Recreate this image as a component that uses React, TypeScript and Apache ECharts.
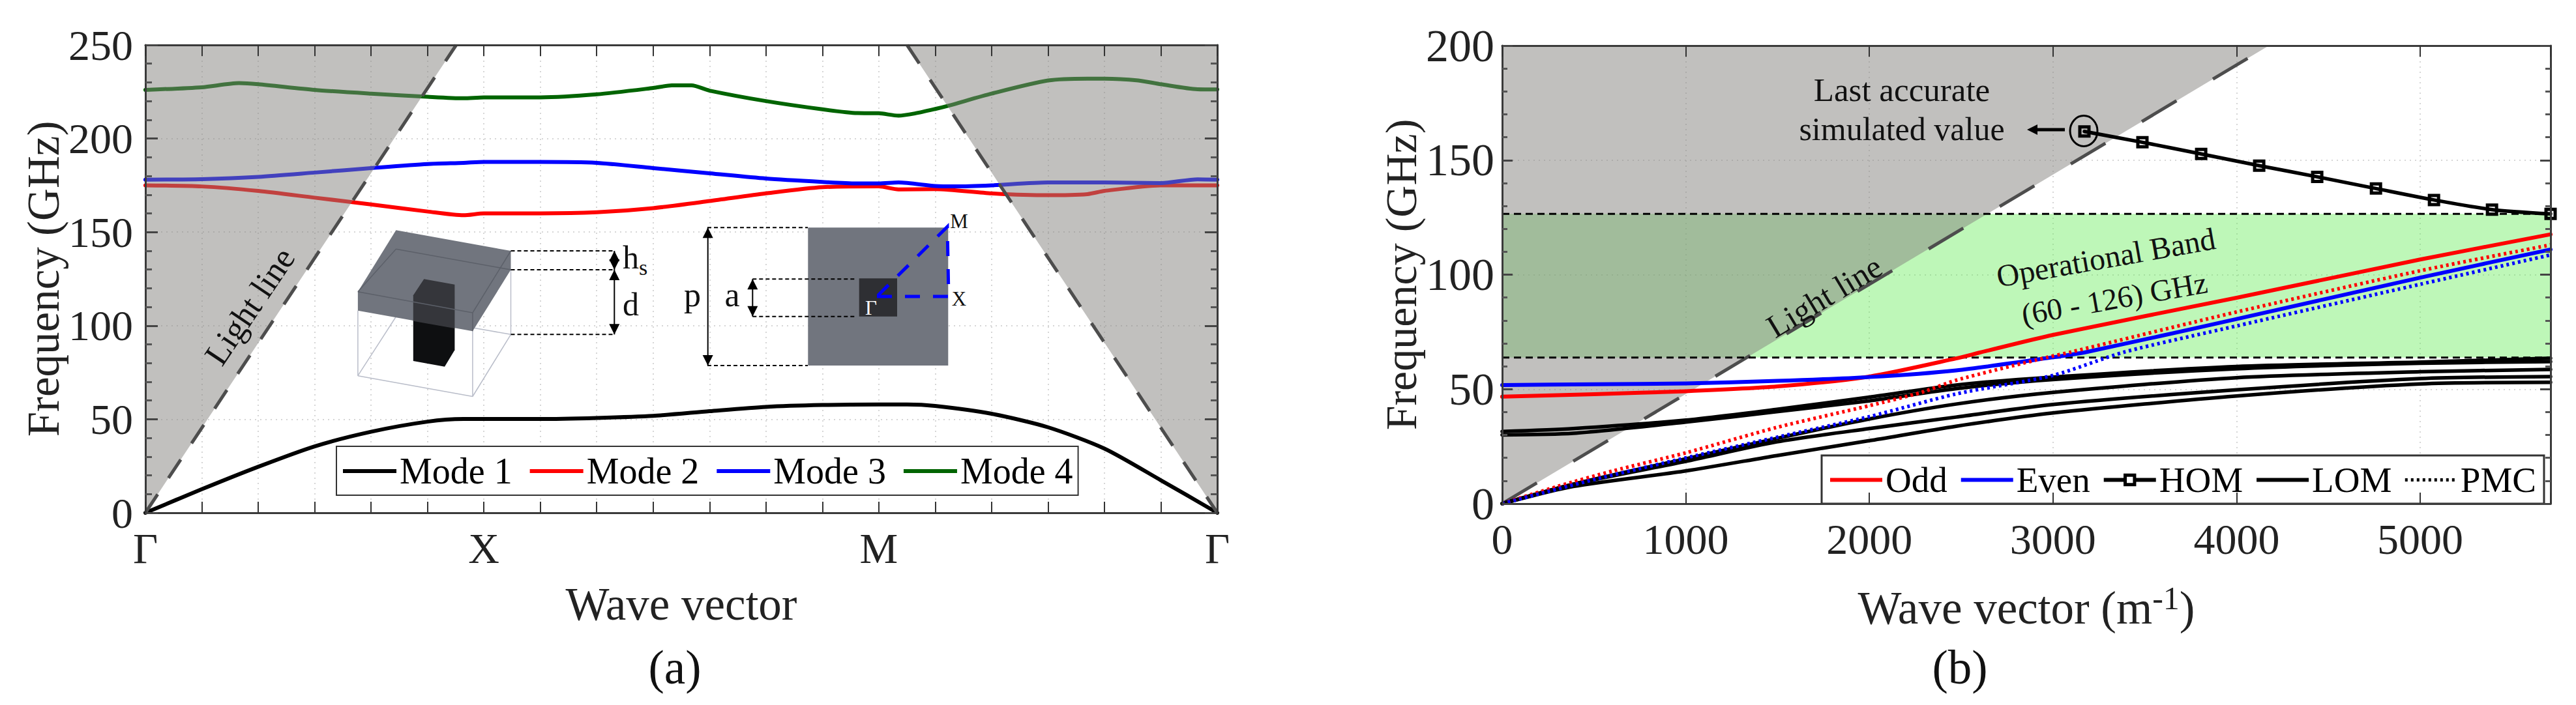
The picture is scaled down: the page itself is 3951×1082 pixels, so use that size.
import React, { useEffect, useRef } from "react";
import * as echarts from "echarts";

const FONT = "'Liberation Serif', 'Times New Roman', serif";

// ---- Panel (a) ----
const xTickLabelsA: Record<number, string> = { 0: "Γ", 6: "X", 13: "M", 19: "Γ" };
const mode1X = [0, 1, 2, 3, 4, 5, 5.64, 6, 7, 8, 9, 10, 11, 12, 13, 13.5, 14, 15, 16, 17, 18, 19];
const mode1Y = [0, 12.6, 24.6, 35.5, 43.3, 48.7, 50.1, 50.1, 50.1, 50.7, 51.8, 54.3, 56.6, 57.6, 57.9, 57.9, 57.1, 52.9, 45.7, 34.3, 17.4, 0];
const mode2X = [0, 1, 2, 3, 4, 5, 5.64, 6, 7, 8, 9, 10, 11, 12, 13, 13.35, 14, 15, 16, 16.7, 17, 18, 19];
const mode2Y = [175, 174.4, 172, 168.4, 164.8, 161, 159, 160, 160, 160.6, 162.8, 166.6, 170.7, 174, 174.4, 172.8, 173, 170.7, 169.7, 170.3, 172, 175, 175];
const mode3X = [0, 1, 2, 3, 4, 5, 5.64, 6, 7, 8, 9, 10, 11, 12, 12.6, 13, 13.35, 14, 14.37, 15, 16, 17, 18, 18.65, 19];
const mode3Y = [178, 178.3, 179.5, 181.8, 184.2, 186.4, 187, 187.5, 187.5, 187, 184.2, 181.4, 178.6, 176.8, 176, 176, 176.5, 174.6, 174.4, 175, 176.5, 176.5, 176.2, 178.2, 178];
const mode4X = [0, 1, 1.66, 2, 3, 4, 5, 5.64, 6, 7, 8, 9, 9.33, 9.68, 10, 11, 12, 12.62, 13, 13.35, 13.64, 14, 14.24, 15, 16, 16.7, 17, 17.6, 18, 18.65, 19];
const mode4Y = [226, 227.4, 229.6, 229, 226, 224, 222.3, 221.5, 222, 222, 223.6, 227, 228.4, 228.4, 225.6, 220, 215.6, 213.6, 213.5, 212.2, 213.4, 215.8, 217.6, 224, 231, 232, 232, 231, 229, 226.3, 226.2];
const lightConeALeft = [[0, 0], [5.51, 250], [0, 250]];
const lightConeARight = [[13.5, 250], [19, 250], [19, 0]];
const lightLineALeft = [[0, 0], [5.51, 250]];
const lightLineARight = [[13.5, 250], [19, 0]];

// ---- Panel (b) ----
const oddX = [0, 500, 1000, 1500, 2000, 2472, 2602, 3000, 4000, 5000, 5710];
const oddY = [46.7, 47.8, 49.1, 51.2, 55.5, 63.4, 66, 73.7, 89.9, 106.6, 117.6];
const evenX = [0, 500, 1000, 1500, 2000, 2472, 3000, 3183, 4000, 5000, 5710];
const evenY = [51.8, 52.1, 52.5, 53.6, 55.3, 58.2, 63.9, 66.2, 80.6, 98.7, 111];
const pmcOddX = [0, 300, 603, 1000, 1496, 2000, 2284, 2472, 2968, 3097, 4000, 5000, 5710];
const pmcOddY = [0, 7.5, 14.3, 22.2, 33.3, 42.8, 48.6, 53.9, 63.9, 66.2, 83.7, 101.7, 113];
const pmcEvenX = [0, 500, 1000, 1496, 2000, 2472, 3000, 3388, 4000, 5000, 5710];
const pmcEvenY = [0, 10.5, 20, 29, 38, 47.9, 56, 66.2, 77.6, 95.8, 108.6];
const homX = [3171, 3487, 3807, 4123, 4439, 4759, 5075, 5391, 5710];
const homY = [162.5, 157.8, 152.7, 147.6, 142.7, 137.6, 132.6, 128.4, 126.5];
const lomX = [0, 387, 1000, 1496, 2000, 2472, 3000, 4000, 5000, 5710];
const lomA = [31.5, 32.8, 36.5, 41.2, 46.5, 51.8, 55.3, 59.9, 61.8, 63.5];
const lomB = [30, 30.7, 35.6, 40.2, 44.9, 50.2, 54.2, 58.9, 61.3, 62];
const lomC = [0, 8.5, 19.6, 28.5, 37, 43.5, 48.6, 55, 57.6, 58.6];
const lomD = [0, 8.5, 18.5, 27, 32.8, 37.8, 43.3, 49.7, 54.6, 55.5];
const lomE = [0, 7.5, 14.3, 21, 27.5, 33.8, 39.6, 47, 52.3, 53];
const X_MAX_B = 5710;
const bandLow = 63.8;
const bandHigh = 126.5;
const bandPolygon = [[0, bandLow], [X_MAX_B, bandLow], [X_MAX_B, bandHigh], [0, bandHigh]];
const lightConeB = [[0, 0], [4176, 200], [0, 200]];
const lightLineB = [[0, 0], [4176, 200]];

const zip = (xs: number[], ys: number[]) => xs.map((x, i) => [x, ys[i]]);

const gridLine = { show: true, lineStyle: { color: "#d6d6d6", type: [2, 6], width: 2 } };
const frame = { show: true, onZero: false, lineStyle: { color: "#3a3a3a", width: 3 } };

function xAxes(grid: number, max: number, interval: number, label: any, name: any, nameGap: number, nameTextStyle: any) {
  const base = { type: "value", gridIndex: grid, min: 0, max, interval };
  return [
    {
      ...base, position: "bottom", z: 0, axisLine: { show: false, onZero: false }, axisTick: { show: false },
      axisLabel: { color: "#222", fontFamily: FONT, ...label }, splitLine: gridLine,
      name, nameLocation: "middle", nameGap, nameTextStyle,
    },
    { ...base, position: "bottom", z: 10, axisLine: frame, axisTick: { show: true, inside: true, length: 17, lineStyle: { color: "#333", width: 2 } }, axisLabel: { show: false }, splitLine: { show: false } },
    { ...base, position: "top", z: 10, axisLine: frame, axisTick: { show: true, inside: true, length: 17, lineStyle: { color: "#333", width: 2 } }, axisLabel: { show: false }, splitLine: { show: false } },
  ];
}
function yAxes(grid: number, max: number, label: any, name: string, nameGap: number, nameSize: number, major: number, minor: number) {
  const base = { type: "value", gridIndex: grid, min: 0, max, interval: 50 };
  const ticks = {
    axisLine: frame,
    axisTick: { show: true, inside: true, length: major, lineStyle: { color: "#444", width: 3 } },
    minorTick: { show: true, splitNumber: 5, length: minor, lineStyle: { color: "#555", width: 3 } },
    axisLabel: { show: false }, splitLine: { show: false },
  };
  return [
    {
      ...base, position: "left", z: 0, axisLine: { show: false, onZero: false }, axisTick: { show: false },
      axisLabel: { color: "#222", fontFamily: FONT, ...label }, splitLine: gridLine,
      name, nameLocation: "middle", nameGap, nameTextStyle: { fontFamily: FONT, fontSize: nameSize, color: "#222" },
    },
    { ...base, position: "left", z: 10, ...ticks },
    { ...base, position: "right", z: 10, ...ticks },
  ];
}

function polySeries(points: number[][], fill: string, z: number, xi: number, yi: number) {
  return {
    type: "custom", xAxisIndex: xi, yAxisIndex: yi, z, silent: true, clip: false, data: [0],
    renderItem: (_p: any, api: any) => ({
      type: "polygon",
      shape: { points: points.map((v) => api.coord(v)) },
      style: { fill },
    }),
  };
}
function lineS(name: string, data: number[][], color: string, width: number, xi: number, yi: number, extra: any = {}) {
  return {
    type: "line", name, data, xAxisIndex: xi, yAxisIndex: yi, showSymbol: false, symbol: "none",
    smooth: 0.25, z: 2, lineStyle: { color, width, cap: "round", join: "round", ...(extra.lineStyle || {}) },
    itemStyle: { color }, silent: true, ...(extra.rest || {}),
  };
}

// graphic helpers (annotation drawing, all in page pixels)
const Z = 20;
const poly = (p: number[][], fill: string, z = Z) => ({ type: "polygon", z, silent: true, shape: { points: p }, style: { fill } });
const seg = (x1: number, y1: number, x2: number, y2: number, stroke: string, lineWidth: number, lineDash?: number[], z = Z) => ({
  type: "line", z, silent: true, shape: { x1, y1, x2, y2 }, style: { stroke, lineWidth, lineDash },
});
// y is the text baseline unless opts.center is set
const label = (text: string, x: number, y: number, fontSize: number, opts: any = {}) => ({
  type: "text", z: Z + 2, silent: true, x, y: opts.center ? y : y - 0.27 * fontSize, rotation: opts.rotation || 0,
  style: {
    text, fontFamily: FONT, fontSize, fill: opts.fill || "#111", textAlign: opts.align || "center",
    textVerticalAlign: "middle", verticalAlign: "middle", align: opts.align || "center",
  },
});
const vArrow = (x: number, y1: number, y2: number, both: boolean, hw = 8, hl = 16) => {
  const out: any[] = [seg(x, y1, x, y2, "#000", 2)];
  const dir = y2 > y1 ? 1 : -1;
  out.push(poly([[x, y2], [x - hw, y2 - dir * hl], [x + hw, y2 - dir * hl]], "#000"));
  if (both) out.push(poly([[x, y1], [x - hw, y1 + dir * hl], [x + hw, y1 + dir * hl]], "#000"));
  return out;
};

const SLAB = "#71757e";
const dash = [6, 4];
const graphics: any[] = [
  // 3-D unit cell wire frame
  seg(548.9, 476.7, 548.9, 576.7, "#b9bdc9", 1.5),
  seg(724.9, 508.3, 724.9, 608.5, "#b9bdc9", 1.5),
  seg(783.5, 414, 783.5, 513.3, "#b9bdc9", 1.5),
  seg(548.9, 576.7, 724.9, 608.5, "#b9bdc9", 1.5),
  seg(724.9, 608.5, 783.5, 513.3, "#b9bdc9", 1.5),
  seg(548.9, 576.7, 607.4, 486, "#b9bdc9", 1.5),
  seg(724.9, 503, 783.5, 513.3, "#b9bdc9", 1.5),
  // pillar
  poly([[650.3, 428.3], [697.4, 436.7], [697.4, 537.3], [682, 562.7], [633.8, 554], [633.8, 453.3]], "#0e0f11"),
  // slab
  poly([[607.4, 353.3], [783.5, 385], [783.5, 414], [724.9, 508.3], [548.9, 476.7], [548.9, 447.7]], SLAB),
  poly([[650.3, 428.3], [697.4, 436.7], [697.4, 504], [633.8, 492.7], [633.8, 453.3]], "#35363b"),
  seg(607.4, 382.3, 783.5, 414, "#5c6069", 1.5),
  seg(783.5, 385, 724.9, 480, "#5c6069", 1.5),
  seg(724.9, 480, 548.9, 447.7, "#5c6069", 1.5),
  seg(548.9, 447.7, 607.4, 382.3, "#5c6069", 1.5),
  seg(724.9, 480, 724.9, 508.3, "#5c6069", 1.5),
  seg(783.5, 385, 942, 385, "#000", 2, dash),
  seg(783.5, 414, 942, 414, "#000", 2, dash),
  seg(783.5, 513.3, 942, 513.3, "#000", 2, dash),
  ...vArrow(942.3, 400, 385, false),
  ...vArrow(942.3, 400, 414, false),
  ...vArrow(942.3, 414, 513.3, true),
  label("h", 955, 408, 50, { align: "left" }),
  label("s", 980, 420, 34, { align: "left" }),
  label("d", 955, 480, 50, { align: "left" }),
  // top-view cell
  poly([[1239.3, 349.3], [1454.3, 349.3], [1454.3, 561], [1239.3, 561]], SLAB),
  poly([[1317.7, 427.3], [1376, 427.3], [1376, 485.7], [1317.7, 485.7]], "#2e2f33"),
  { type: "polyline", z: Z + 1, silent: true, shape: { points: [[1345, 455], [1455, 455], [1453, 348], [1345, 455]] }, style: { stroke: "#0000ff", lineWidth: 5, lineDash: [23, 20], fill: "none" } },
  seg(1085, 349.3, 1239, 349.3, "#000", 2, dash),
  seg(1085, 561, 1239, 561, "#000", 2, dash),
  seg(1154.3, 428.3, 1313, 428.3, "#000", 2, dash),
  seg(1154.3, 485.7, 1313, 485.7, "#000", 2, dash),
  ...vArrow(1085.7, 349.3, 561, true),
  ...vArrow(1154.3, 428.3, 485.7, true),
  label("p", 1062, 466.7, 52),
  label("a", 1123, 466.7, 52),
  label("M", 1471, 348, 31),
  label("X", 1471, 466.7, 31),
  label("Γ", 1336, 480.7, 31, { fill: "#fff" }),
  label("Light line", 383, 470, 52, { rotation: (56 * Math.PI) / 180, center: true }),
  // panel (b) annotations
  label("Last accurate", 2917, 152, 51),
  label("simulated value", 2917, 211, 50),
  seg(3167, 199, 3122, 199, "#000", 5),
  poly([[3109, 199], [3125, 191], [3125, 207]], "#000"),
  { type: "ellipse", z: Z, silent: true, shape: { cx: 3196, cy: 201, rx: 21, ry: 23.5 }, style: { fill: "none", stroke: "#000", lineWidth: 3 } },
  label("Light line", 2798, 455, 50, { rotation: (31 * Math.PI) / 180, center: true }),
  label("Operational Band", 3230, 395, 48, { rotation: (10 * Math.PI) / 180, center: true }),
  label("(60 - 126) GHz", 3243, 458, 47, { rotation: (10 * Math.PI) / 180, center: true }),
  label("(a)", 1035, 1044, 73),
  label("(b)", 3006, 1044, 73),
];

const noMark = { opacity: 0 };

export default function App() {
  const ref = useRef<HTMLDivElement>(null);
  useEffect(() => {
    const chart = echarts.init(ref.current!, undefined, { renderer: "svg" });
    const nameA = { fontFamily: FONT, fontSize: 71, color: "#222" };
    const option: any = {
      animation: false,
      backgroundColor: "#fff",
      grid: [
        { left: 223, top: 69, width: 1644, height: 718 },
        { left: 2304, top: 70, width: 1608, height: 703 },
      ],
      xAxis: [
        ...xAxes(0, 19, 1, { fontSize: 66, margin: 21, formatter: (v: number) => xTickLabelsA[v] || "" }, "Wave vector", 104, nameA),
        ...xAxes(1, X_MAX_B, 1000, { fontSize: 66, margin: 21, showMaxLabel: false, formatter: (v: number) => String(v) }, "{a|Wave vector (m}{s|-1}{a|)}", 120, {
          fontFamily: FONT, fontSize: 71, color: "#222",
          rich: {
            a: { fontFamily: FONT, fontSize: 71, color: "#222" },
            s: { fontFamily: FONT, fontSize: 50, color: "#222", verticalAlign: "top", lineHeight: 80 },
          },
        }),
      ],
      yAxis: [
        ...yAxes(0, 250, { fontSize: 66, margin: 19 }, "Frequency (GHz)", 122, 69, 19, 10),
        ...yAxes(1, 200, { fontSize: 70, margin: 12 }, "Frequency (GHz)", 115, 68, 16, 8),
      ],
      legend: [
        {
          left: 516, top: 685, padding: [10, 8, 9, 7], itemGap: 24, itemWidth: 82, itemHeight: 10,
          backgroundColor: "#fff", borderColor: "#333", borderWidth: 2, selectedMode: false,
          textStyle: { fontFamily: FONT, fontSize: 56, color: "#000" }, lineStyle: { width: 6, cap: "butt" },
          data: ["Mode 1", "Mode 2", "Mode 3", "Mode 4"].map((name) => ({ name, itemStyle: noMark })),
        },
        {
          left: 2794, top: 699, padding: [10, 12, 9, 10], itemGap: 18, itemWidth: 80, itemHeight: 18,
          backgroundColor: "#fff", borderColor: "#333", borderWidth: 3, selectedMode: false,
          textStyle: { fontFamily: FONT, fontSize: 55, color: "#000" }, lineStyle: { width: 6, cap: "butt" },
          data: [
            { name: "Odd", itemStyle: noMark },
            { name: "Even", itemStyle: noMark },
            { name: "HOM", itemStyle: { color: "#fff", borderColor: "#000", borderWidth: 5 } },
            { name: "LOM", itemStyle: noMark },
            { name: "PMC", itemStyle: noMark, lineStyle: { color: "#000", type: [4, 5], width: 5 } },
          ],
        },
      ],
      graphic: { elements: graphics },
      series: [
        // (a)
        lineS("Mode 1", zip(mode1X, mode1Y), "#000000", 6, 0, 0),
        lineS("Mode 2", zip(mode2X, mode2Y), "#ff0000", 6, 0, 0),
        lineS("Mode 3", zip(mode3X, mode3Y), "#0000ff", 6, 0, 0),
        lineS("Mode 4", zip(mode4X, mode4Y), "#006400", 6, 0, 0),
        polySeries(lightConeALeft, "rgba(131,129,125,0.5)", 3, 0, 0),
        polySeries(lightConeARight, "rgba(131,129,125,0.5)", 3, 0, 0),
        lineS("Light line (a) left", lightLineALeft, "#4d4d4d", 5, 0, 0, { lineStyle: { type: [34, 30], cap: "butt" }, rest: { smooth: false, z: 4 } }),
        lineS("Light line (a) right", lightLineARight, "#4d4d4d", 5, 0, 0, { lineStyle: { type: [34, 30], cap: "butt" }, rest: { smooth: false, z: 4 } }),
        // (b)
        polySeries(bandPolygon, "rgba(100,235,85,0.42)", 1, 3, 3),
        polySeries(lightConeB, "rgba(131,129,125,0.5)", 1, 3, 3),
        lineS("Light line (b)", lightLineB, "#4d4d4d", 5, 3, 3, { lineStyle: { type: [62, 65], cap: "butt" }, rest: { smooth: false, z: 2 } }),
        lineS("Band top", [[0, bandHigh], [X_MAX_B, bandHigh]], "#000", 3, 3, 3, { lineStyle: { type: [11, 7], cap: "butt" }, rest: { smooth: false } }),
        lineS("Band bottom", [[0, bandLow], [X_MAX_B, bandLow]], "#000", 3, 3, 3, { lineStyle: { type: [11, 7], cap: "butt" }, rest: { smooth: false } }),
        lineS("LOM", zip(lomX, lomA), "#000", 5.5, 3, 3),
        lineS("LOM", zip(lomX, lomB), "#000", 5.5, 3, 3),
        lineS("LOM", zip(lomX, lomC), "#000", 5.5, 3, 3),
        lineS("LOM", zip(lomX, lomD), "#000", 5.5, 3, 3),
        lineS("LOM", zip(lomX, lomE), "#000", 5.5, 3, 3),
        lineS("Odd", zip(oddX, oddY), "#ff0000", 6, 3, 3),
        lineS("Even", zip(evenX, evenY), "#0000ff", 6, 3, 3),
        lineS("PMC", zip(pmcOddX, pmcOddY), "#ff0000", 5.5, 3, 3, { lineStyle: { type: [4, 5], cap: "butt" } }),
        lineS("PMC", zip(pmcEvenX, pmcEvenY), "#0000ff", 5.5, 3, 3, { lineStyle: { type: [4, 5], cap: "butt" } }),
        {
          ...lineS("HOM", zip(homX, homY), "#000", 5.5, 3, 3),
          showSymbol: true, symbol: "rect", symbolSize: 14, clip: false, z: 5,
          itemStyle: { color: "transparent", borderColor: "#000", borderWidth: 5 },
        },
      ],
    };
    chart.setOption(option);
    return () => chart.dispose();
  }, []);
  return <div ref={ref} style={{ position: "absolute", left: 0, top: 0, width: 3951, height: 1082 }} />;
}
